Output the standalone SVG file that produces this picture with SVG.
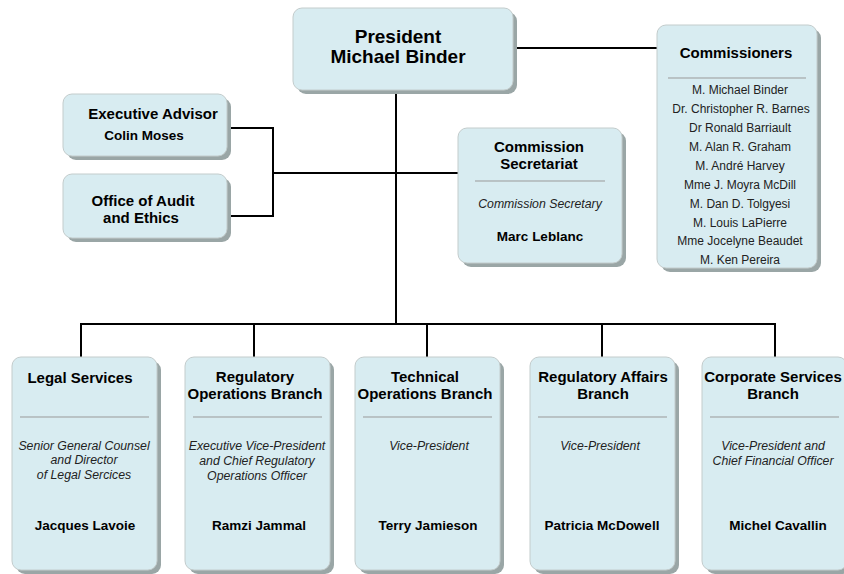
<svg xmlns="http://www.w3.org/2000/svg" width="844" height="574" viewBox="0 0 844 574">
<defs>
<style>
.sh{fill:#9aa6a6}
.bx{fill:#d8ecf1;stroke:#c3cccc;stroke-width:1}
.sep{stroke:#999;stroke-width:1}
.ln{stroke:#000;stroke-width:2;fill:none}
text{font-family:"Liberation Sans",Arial,sans-serif;fill:#000;text-anchor:middle}
.t14{font-size:15px;font-weight:bold}
.t18{font-size:19px;font-weight:bold}
.nm{font-size:13.5px;font-weight:bold}
.it{font-size:12.3px;font-style:italic;fill:#222}
.ls{font-size:12px;fill:#222}
</style>
</defs>
<rect width="844" height="574" fill="#fff"/>
<g id="connectors">
<path class="ln" d="M396 90 V324"/>
<path class="ln" d="M81 357 V324 H775 V357"/>
<path class="ln" d="M254 324 V357 M427 324 V357 M602 324 V357"/>
<path class="ln" d="M230 128 H273 V216 H230 M273 173 H460"/>
<path class="ln" d="M513 48 H658"/>
</g>
<g id="president">
<rect class="sh" x="297" y="12" width="220" height="82" rx="9"/>
<rect class="bx" x="293" y="8" width="220" height="82" rx="9"/>
<text class="t18" x="398" y="43">President</text>
<text class="t18" x="398" y="63">Michael Binder</text>
</g>
<g id="commissioners">
<rect class="sh" x="661" y="29" width="160" height="243" rx="9"/>
<rect class="bx" x="657" y="25" width="160" height="243" rx="9"/>
<text class="t14" x="736" y="58">Commissioners</text>
<line class="sep" x1="668" y1="78" x2="806" y2="78"/>
<text class="ls" x="740" y="94">M. Michael Binder</text>
<text class="ls" x="741" y="113">Dr. Christopher R. Barnes</text>
<text class="ls" x="740" y="132">Dr Ronald Barriault</text>
<text class="ls" x="740" y="151">M. Alan R. Graham</text>
<text class="ls" x="740" y="170">M. André Harvey</text>
<text class="ls" x="740" y="189">Mme J. Moyra McDill</text>
<text class="ls" x="740" y="208">M. Dan D. Tolgyesi</text>
<text class="ls" x="740" y="227">M. Louis LaPierre</text>
<text class="ls" x="740" y="245">Mme Jocelyne Beaudet</text>
<text class="ls" x="740" y="264">M. Ken Pereira</text>
</g>
<g id="executive-advisor">
<rect class="sh" x="67" y="98" width="164" height="62" rx="9"/>
<rect class="bx" x="63" y="94" width="164" height="62" rx="9"/>
<text class="t14" x="153" y="119">Executive Advisor</text>
<text class="nm" x="144" y="140">Colin Moses</text>
</g>
<g id="audit-ethics">
<rect class="sh" x="67" y="178" width="164" height="64" rx="9"/>
<rect class="bx" x="63" y="174" width="164" height="64" rx="9"/>
<text class="t14" x="143" y="206">Office of Audit</text>
<text class="t14" x="141" y="223">and Ethics</text>
</g>
<g id="commission-secretariat">
<rect class="sh" x="462" y="132" width="164" height="135" rx="9"/>
<rect class="bx" x="458" y="128" width="164" height="135" rx="9"/>
<text class="t14" x="539" y="152">Commission</text>
<text class="t14" x="539" y="169">Secretariat</text>
<line class="sep" x1="475" y1="181" x2="605" y2="181"/>
<text class="it" x="540" y="208">Commission Secretary</text>
<text class="nm" x="540" y="241">Marc Leblanc</text>
</g>
<g id="legal-services">
<rect class="sh" x="16" y="361" width="145" height="213" rx="9"/>
<rect class="bx" x="12" y="357" width="145" height="213" rx="9"/>
<text class="t14" x="80" y="383">Legal Services</text>
<line class="sep" x1="20" y1="417" x2="149" y2="417"/>
<text class="it" x="84" y="450">Senior General Counsel</text>
<text class="it" x="84" y="464">and Director</text>
<text class="it" x="84" y="479">of Legal Sercices</text>
<text class="nm" x="85" y="530">Jacques Lavoie</text>
</g>
<g id="regulatory-operations">
<rect class="sh" x="189" y="361" width="145" height="213" rx="9"/>
<rect class="bx" x="185" y="357" width="145" height="213" rx="9"/>
<text class="t14" x="255" y="382">Regulatory</text>
<text class="t14" x="255" y="399">Operations Branch</text>
<line class="sep" x1="193" y1="417" x2="322" y2="417"/>
<text class="it" x="257" y="450">Executive Vice-President</text>
<text class="it" x="257" y="465">and Chief Regulatory</text>
<text class="it" x="257" y="480">Operations Officer</text>
<text class="nm" x="259" y="530">Ramzi Jammal</text>
</g>
<g id="technical-operations">
<rect class="sh" x="359" y="361" width="145" height="213" rx="9"/>
<rect class="bx" x="355" y="357" width="145" height="213" rx="9"/>
<text class="t14" x="425" y="382">Technical</text>
<text class="t14" x="425" y="399">Operations Branch</text>
<line class="sep" x1="363" y1="417" x2="492" y2="417"/>
<text class="it" x="429" y="450">Vice-President</text>
<text class="nm" x="428" y="530">Terry Jamieson</text>
</g>
<g id="regulatory-affairs">
<rect class="sh" x="534" y="361" width="145" height="213" rx="9"/>
<rect class="bx" x="530" y="357" width="145" height="213" rx="9"/>
<text class="t14" x="603" y="382">Regulatory Affairs</text>
<text class="t14" x="603" y="399">Branch</text>
<line class="sep" x1="538" y1="417" x2="667" y2="417"/>
<text class="it" x="600" y="450">Vice-President</text>
<text class="nm" x="602" y="530">Patricia McDowell</text>
</g>
<g id="corporate-services">
<rect class="sh" x="706" y="361" width="145" height="213" rx="9"/>
<rect class="bx" x="702" y="357" width="145" height="213" rx="9"/>
<text class="t14" x="773" y="382">Corporate Services</text>
<text class="t14" x="773" y="399">Branch</text>
<line class="sep" x1="710" y1="417" x2="839" y2="417"/>
<text class="it" x="773" y="450">Vice-President and</text>
<text class="it" x="773" y="465">Chief Financial Officer</text>
<text class="nm" x="778" y="530">Michel Cavallin</text>
</g>
</svg>
